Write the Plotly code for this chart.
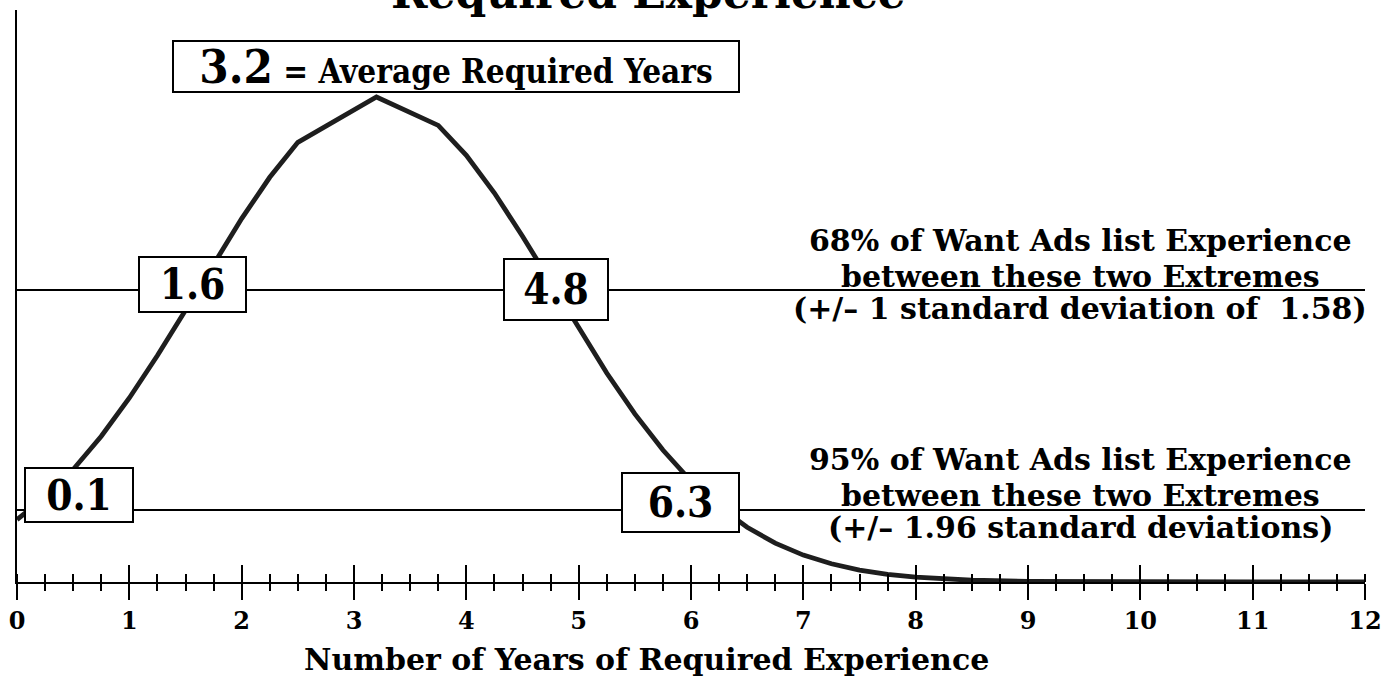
import plotly.graph_objects as go

# ---- data ----
years = [0.0, 0.25, 0.5, 0.75, 1.0, 1.25, 1.5, 1.75, 2.0, 2.25, 2.5, 3.2,
         3.75, 4.0, 4.25, 4.5, 4.75, 5.0, 5.25, 5.5, 5.75, 6.0, 6.25, 6.5,
         6.75, 7.0, 7.25, 7.5, 7.75, 8.0, 8.5, 9.0, 9.5, 10.0, 10.5, 11.0,
         11.5, 12.0]
share = [0.0325, 0.0442, 0.0586, 0.0759, 0.0958, 0.1179, 0.1415, 0.1657,
         0.1892, 0.2107, 0.2289, 0.2525, 0.2377, 0.2221, 0.2025, 0.1800,
         0.1560, 0.1320, 0.1088, 0.0875, 0.0687, 0.0525, 0.0392, 0.0285,
         0.0202, 0.0140, 0.0095, 0.0062, 0.0040, 0.0025, 0.0009, 0.0003,
         0.0001, 0.0, 0.0, 0.0, 0.0, 0.0]
mean_label = "3.2"
box_labels = ["0.1", "1.6", "4.8", "6.3"]
band_levels = [0.152, 0.0375]  # heights of the 68% and 95% lines
band_texts = [
    ["68% of Want Ads list Experience", "between these two Extremes",
     "(+/\u2013 1 standard deviation of  1.58)"],
    ["95% of Want Ads list Experience", "between these two Extremes",
     "(+/\u2013 1.96 standard deviations)"],
]
tick_vals = list(range(0, 13))
tick_text = [str(v) for v in tick_vals]
title_text = "Required Experience"
xaxis_text = "Number of Years of Required Experience"

# ---- layout constants ----
W, H = 1398, 676
ML, MR, MT, MB = 17, 33, 10, 94
YMAX = 0.2978
SERIF = "DejaVu Serif"
COND = "DejaVu Serif Condensed, DejaVu Serif"
PLOT_H = H - MT - MB

box_pos = [(0.552, 0.0453), (1.562, 0.1549), (4.80, 0.1523), (5.907, 0.0414)]
box_size = [(110, 56), (109, 57), (106, 63), (119, 61)]
BW = 2

fig = go.Figure()
fig.add_trace(go.Scatter(x=years, y=share, mode="lines",
                         line=dict(color="#1e1e1e", width=4.8),
                         hoverinfo="skip", showlegend=False, cliponaxis=False))
# helper trace for the overlaid tick axis
fig.add_trace(go.Scatter(x=[0], y=[0], xaxis="x2", mode="markers",
                         marker=dict(opacity=0), hoverinfo="skip",
                         showlegend=False))

for lvl in band_levels:
    fig.add_shape(type="line", xref="x", yref="y", x0=0, x1=12, y0=lvl, y1=lvl,
                  line=dict(color="black", width=2), layer="below")

ann = []
for lab, (bx, by), (bw, bh) in zip(box_labels, box_pos, box_size):
    ann.append(dict(x=bx, y=by, xref="x", yref="y", text=lab, showarrow=False,
                    xanchor="center", yanchor="middle",
                    width=bw - 2 * BW, height=bh - 2 * BW, borderpad=0,
                    bordercolor="black", borderwidth=BW, bgcolor="white",
                    font=dict(family=COND, size=42, color="black", weight="bold")))
# mean box
ann.append(dict(x=3.908, y=0.2684, xref="x", yref="y",
                text='<span style="font-size:47px">' + mean_label +
                     '</span> = Average Required Years',
                showarrow=False, xanchor="center", yanchor="middle",
                width=568 - 2 * BW, height=53 - 2 * BW, borderpad=0,
                bordercolor="black", borderwidth=BW, bgcolor="white",
                font=dict(family=COND, size=33, color="black", weight="bold")))

# right-side explanatory texts (one line each)
line_offsets = [-50, -14, 18]  # px relative to the band line
pxu = PLOT_H / YMAX
for lvl, lines in zip(band_levels, band_texts):
    for off, t in zip(line_offsets, lines):
        ann.append(dict(x=9.463, y=lvl - off / pxu, xref="x", yref="y", text=t,
                        showarrow=False, xanchor="center", yanchor="middle",
                        font=dict(family=SERIF, size=30, color="black",
                                  weight="bold")))

# title (cut off at the top of the page, as in the original)
ann.append(dict(x=5.626, y=(582 + 8) / PLOT_H, xref="x", yref="paper",
                text=title_text, showarrow=False, xanchor="center",
                yanchor="middle",
                font=dict(family=SERIF, size=44, color="black", weight="bold")))
# x-axis title
ann.append(dict(x=5.608, y=-(659 - 582) / PLOT_H, xref="x", yref="paper",
                text=xaxis_text, showarrow=False, xanchor="center",
                yanchor="middle",
                font=dict(family=SERIF, size=30, color="black", weight="bold")))

fig.update_layout(
    width=W, height=H, margin=dict(l=ML, r=MR, t=MT, b=MB),
    paper_bgcolor="white", plot_bgcolor="white", showlegend=False,
    annotations=ann,
    xaxis=dict(range=[0, 12], showgrid=False, zeroline=False,
               showline=True, linecolor="black", linewidth=2,
               tickmode="array", tickvals=tick_vals, ticktext=tick_text,
               ticks="outside", ticklen=16, tickwidth=2, tickcolor="black",
               minor=dict(dtick=0.25, ticks="inside", ticklen=8, tickwidth=1.5,
                          tickcolor="black", showgrid=False),
               tickfont=dict(family=SERIF, size=24, color="black", weight="bold")),
    xaxis2=dict(range=[0, 12], overlaying="x", anchor="y", side="bottom",
                showgrid=False, zeroline=False, showline=False,
                showticklabels=False, dtick=1, tick0=0,
                ticks="inside", ticklen=17, tickwidth=2, tickcolor="black",
                minor=dict(dtick=0.25, ticks="outside", ticklen=8, tickwidth=1.5,
                           tickcolor="black", showgrid=False)),
    yaxis=dict(range=[0, YMAX], showgrid=False, zeroline=False,
               showline=True, linecolor="black", linewidth=2,
               showticklabels=False, ticks=""),
)

fig.write_html("out.html", config={"displayModeBar": False},
               post_script="document.body.style.margin='0';")
